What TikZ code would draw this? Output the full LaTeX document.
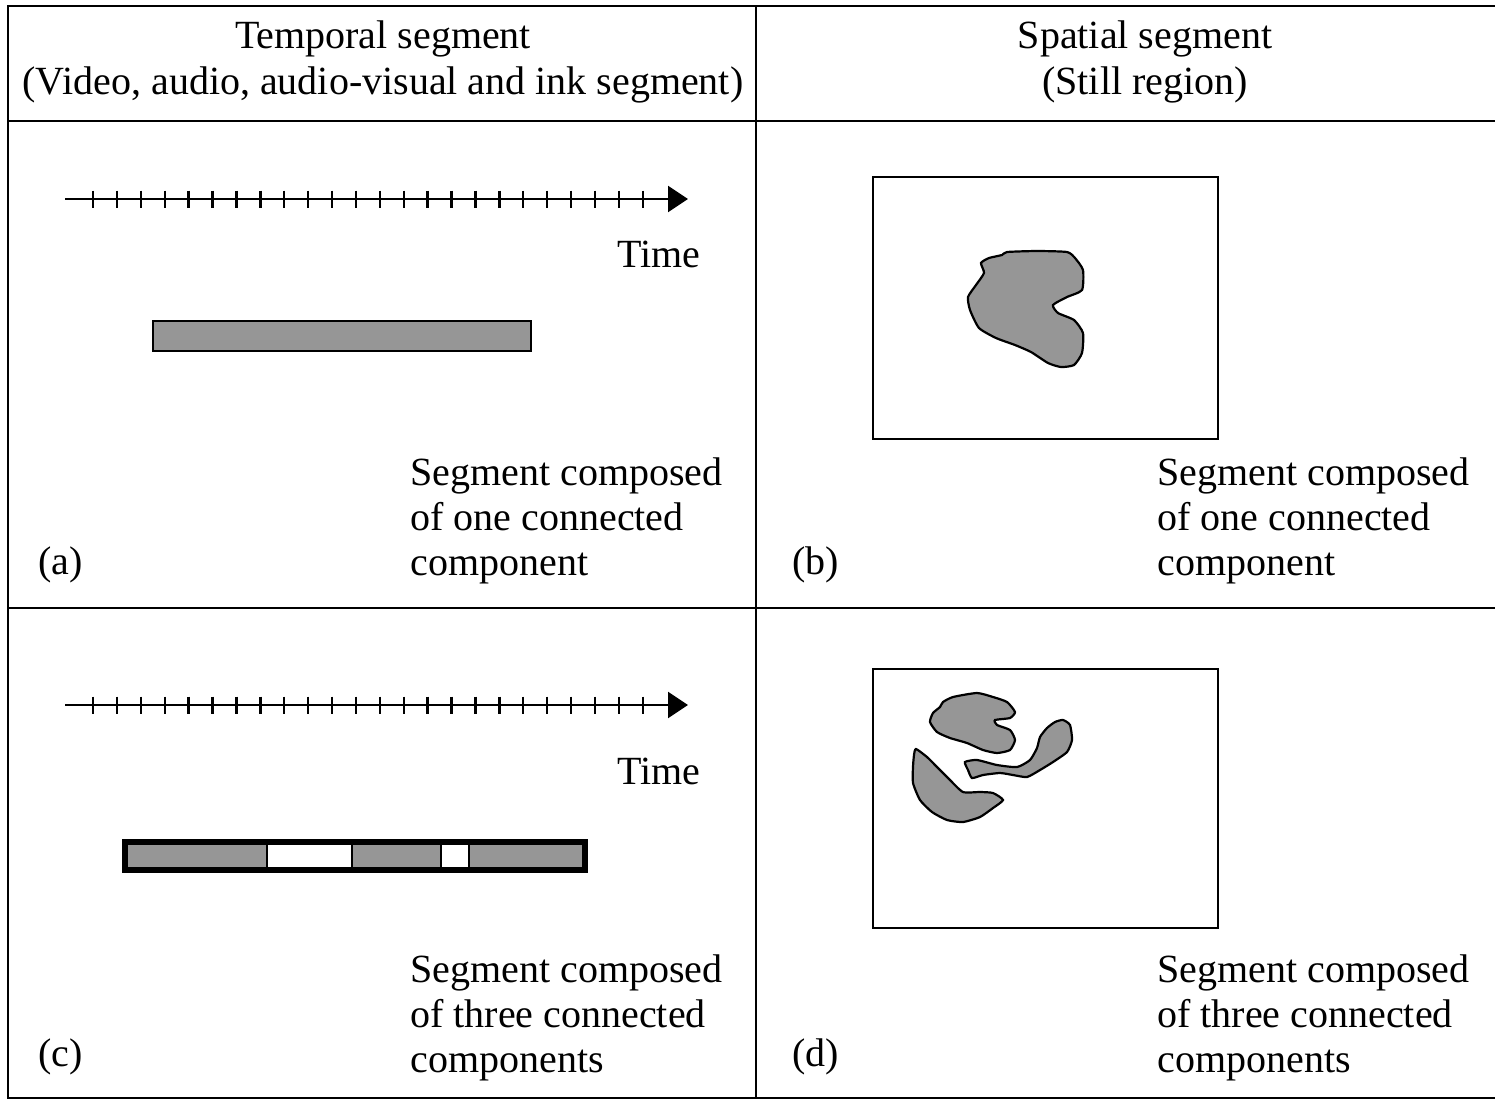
\documentclass[tikz,border=0pt]{standalone}
\usepackage{fontspec}
\setmainfont{Liberation Serif}
\usetikzlibrary{arrows.meta}
\definecolor{blobgray}{RGB}{150,150,150}
\begin{document}
\begin{tikzpicture}[x=0.5pt,y=-0.5pt,
  frame/.style={line width=1.3pt},
  axis/.style={line width=1.2pt,-{Triangle[length=10pt,width=13pt]}},
  tickline/.style={line width=1.2pt},
  txt/.style={inner sep=0pt,font=\fontsize{20}{22.5}\selectfont},
  headtxt/.style={inner sep=0pt,font=\fontsize{20}{23}\selectfont},
  segfill/.style={draw,line width=1.1pt,fill=blobgray},
  picframe/.style={draw,line width=1.1pt},
  blob/.style={draw,line width=1.1pt,fill=blobgray},
]
\useasboundingbox (0,0) rectangle (1495,1100);
% table frame
\coordinate (ftl) at (8,6);
\coordinate (ftr) at (1497,6);
\coordinate (fbl) at (8,1098);
\coordinate (fbr) at (1497,1098);
\coordinate (hl) at (8,121);
\coordinate (hr) at (1497,121);
\coordinate (ml) at (8,608);
\coordinate (mr) at (1497,608);
\coordinate (vt) at (756,6);
\coordinate (vb) at (756,1098);
\draw[frame] (ftr) -- (ftl) -- (fbl) -- (fbr);
\draw[frame] (hl) -- (hr);
\draw[frame] (ml) -- (mr);
\draw[frame] (vt) -- (vb);
% headers
\node[headtxt,anchor=base] (headL) at (383,48) {\begin{tabular}[t]{@{}c@{}}Temporal segment\\(Video, audio, audio-visual and ink segment)\end{tabular}};
\node[headtxt,anchor=base] (headR) at (1145,48) {\begin{tabular}[t]{@{}c@{}}Spatial segment\\(Still region)\end{tabular}};
% time axes
\foreach \y/\n in {199/a,705/c} {
  \coordinate (axs\n) at (65,\y);
  \coordinate (axe\n) at (688,\y);
  \draw[axis] (axs\n) -- (axe\n);
  \foreach \i in {0,...,23} {
    \draw[tickline] ({93+\i*23.9},{\y-8.5}) -- ({93+\i*23.9},{\y+8.5});
  }
}
\node[txt,anchor=base east] (timea) at (701,267) {Time};
\node[txt,anchor=base east] (timec) at (701,784) {Time};
% bar (a)
\coordinate (bara1) at (153,321);
\coordinate (bara2) at (531,351);
\draw[segfill] (bara1) rectangle (bara2);
% bar (c)
\fill[blobgray] (125,841.5) rectangle (267,870);
\fill[blobgray] (352,841.5) rectangle (441,870);
\fill[blobgray] (469,841.5) rectangle (585,870);
\foreach \x in {267,352,441,469} {
  \draw[line width=1.1pt] (\x,841.5) -- (\x,870);
}
\coordinate (barc1) at (125,841.5);
\coordinate (barc2) at (585,870);
\draw[line width=3pt] (barc1) rectangle (barc2);
% still region frames
\coordinate (rb1) at (873,177);
\coordinate (rb2) at (1218,439);
\draw[picframe] (rb1) rectangle (rb2);
\coordinate (rd1) at (873,669);
\coordinate (rd2) at (1218,928);
\draw[picframe] (rd1) rectangle (rd2);
% blob (b)
\draw[blob] plot[smooth cycle, tension=0.35] coordinates {
 (1007,252) (1037,251) (1067,252) (1075,258) (1083,270) (1082,290)
 (1067,297) (1053,305) (1058,313) (1074,320) (1083,333) (1082,353)
 (1074,365) (1061,367) (1048,363) (1031,352) (1015,345) (996,338)
 (979,328) (970,310) (968,297) (976,285) (984,273) (981,263) (989,258) (1002,255)};
% blobs (d)
\draw[blob] plot[smooth cycle, tension=0.35] coordinates {
 (943,702) (953,697) (977,693) (993,697) (1007,702) (1015,712) (1010,718)
 (995,720) (997,725) (1010,730) (1015,740) (1010,750) (997,753) (983,750)
 (967,743) (950,738) (937,732) (930,722) (933,713) (940,707)};
\draw[blob] plot[smooth cycle, tension=0.35] coordinates {
 (1063,720) (1070,725) (1072,740) (1067,752) (1053,762) (1040,770) (1027,777)
 (1013,775) (1000,773) (983,775) (972,778) (968,770) (965,762) (977,760)
 (997,765) (1017,767) (1030,760) (1037,748) (1040,737) (1047,728) (1055,722)};
\draw[blob] plot[smooth cycle, tension=0.35] coordinates {
 (916,749) (927,757) (937,767) (950,780) (963,792) (980,792) (993,793)
 (1003,800) (993,808) (980,817) (963,822) (947,820) (932,812) (920,800)
 (913,783) (913,767) (914,755)};
% captions
\node[txt,anchor=base west] (capa) at (410,485) {\begin{tabular}[t]{@{}l@{}}Segment composed\\of one connected\\component\end{tabular}};
\node[txt,anchor=base west] (capb) at (1157,485) {\begin{tabular}[t]{@{}l@{}}Segment composed\\of one connected\\component\end{tabular}};
\node[txt,anchor=base west] (capc) at (410,982) {\begin{tabular}[t]{@{}l@{}}Segment composed\\of three connected\\components\end{tabular}};
\node[txt,anchor=base west] (capd) at (1157,982) {\begin{tabular}[t]{@{}l@{}}Segment composed\\of three connected\\components\end{tabular}};
\node[txt,anchor=base west] (la) at (38,574) {(a)};
\node[txt,anchor=base west] (lb) at (792,574) {(b)};
\node[txt,anchor=base west] (lc) at (38,1066) {(c)};
\node[txt,anchor=base west] (ld) at (792,1066) {(d)};
\end{tikzpicture}
\end{document}
